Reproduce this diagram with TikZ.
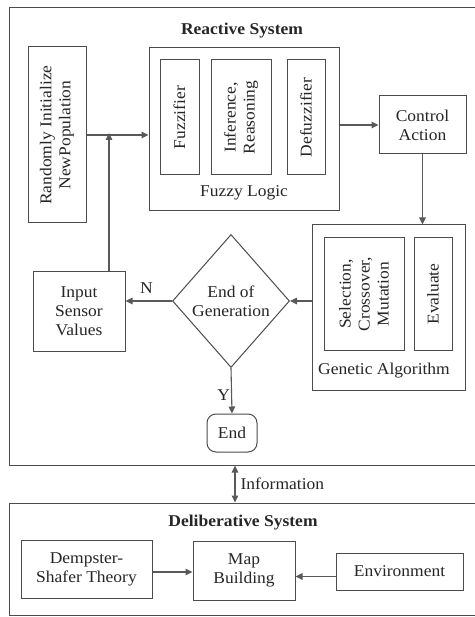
\documentclass[tikz,border=0pt]{standalone}
\usepackage{fontspec}
\setmainfont[FakeStretch=1.06]{Liberation Serif}
\usetikzlibrary{shapes.geometric,arrows.meta}
\begin{document}
\begin{tikzpicture}[x=1pt,y=-1pt,
  font=\fontsize{16.5}{19}\selectfont,
  box/.style={draw=black!70, line width=1pt, inner sep=1pt, align=center, text=black!85},
  vbox/.style={box, rotate=90},
  lbl/.style={inner sep=1pt, text=black!85, align=center},
  ttl/.style={lbl, font=\fontsize{16.5}{19}\selectfont\bfseries},
  arr/.style={-{Triangle[length=7pt,width=6.5pt]}, draw=black!65, line width=1.1pt},
  darr/.style={{Triangle[length=7pt,width=6.5pt]}-{Triangle[length=7pt,width=6.5pt]}, draw=black!65, line width=1.1pt}]
\useasboundingbox (0,0) rectangle (474,617);
\fill[white] (0,0) rectangle (474,617);
% outer systems
\node[box, minimum width=520pt, minimum height=457pt] (react) at (269,236.5) {};
\node[box, minimum width=520pt, minimum height=112pt] (delib) at (269,559) {};
\node[ttl] (rtitle) at (242,31) {Reactive System};
\node[ttl] (dtitle) at (243,523) {Deliberative System};
% reactive system
\node[vbox, minimum width=176pt, minimum height=58pt] (rand) at (57,135) {Randomly Initialize\\NewPopulation};
\node[box, minimum width=190pt, minimum height=163pt] (fuzzy) at (244,129.5) {};
\node[vbox, minimum width=115pt, minimum height=39pt] (fuzz) at (179.5,117.5) {Fuzzifier};
\node[vbox, minimum width=115pt, minimum height=60pt] (infer) at (241,117.5) {Inference,\\Reasoning};
\node[vbox, minimum width=115pt, minimum height=38pt] (defuzz) at (306,117.5) {Defuzzifier};
\node[lbl] (fuzzylbl) at (244,193) {Fuzzy Logic};
\node[box, minimum width=87pt, minimum height=58pt] (ctrl) at (422.5,125) {Control\\Action};
\node[box, minimum width=153pt, minimum height=165pt] (ga) at (388.5,307.5) {};
\node[vbox, minimum width=112pt, minimum height=80pt] (sel) at (364,294) {Selection,\\Crossover,\\Mutation};
\node[vbox, minimum width=112pt, minimum height=38pt] (eval) at (433,294) {Evaluate};
\node[lbl] (galbl) at (384,371) {Genetic Algorithm};
\node[box, diamond, inner sep=0pt, minimum width=117pt, minimum height=133pt] (dia) at (231,301) {End of\\Generation};
\node[box, minimum width=92pt, minimum height=80pt] (input) at (79,311) {Input\\Sensor\\Values};
\node[box, rounded corners=9pt, minimum width=50pt, minimum height=38pt] (end) at (232,433) {End};
\coordinate (join) at (109,135);
\coordinate (info) at (235,484);
% deliberative system
\node[box, minimum width=131pt, minimum height=58pt] (demp) at (86.5,569) {Dempster-\\Shafer Theory};
\node[box, minimum width=102pt, minimum height=59pt] (map) at (244,570.5) {Map\\Building};
\node[box, minimum width=127pt, minimum height=37pt] (env) at (399.5,571.5) {Environment};
% connectors
\draw[arr] (rand.south |- join) -- (join -| fuzzy.west);
\draw[arr] (input.north -| join) -- ([yshift=2pt]join);
\draw[arr] (fuzzy.east |- ctrl) -- (ctrl.west);
\draw[arr] (ctrl.south) -- (ctrl.south |- ga.north);
\draw[arr] (ga.west |- dia) -- (dia.east);
\draw[arr] (dia.west) -- node[lbl, above, pos=0.55, yshift=6pt] (nlbl) {N} (dia.west -| input.east);
\draw[arr] (dia.south) -- node[lbl, left, pos=0.6] (ylbl) {Y} (end.north);
\draw[darr] (react.south -| info) -- node[lbl, right, xshift=4pt] (infolbl) {Information} (delib.north -| info);
\draw[arr] ([yshift=-3pt]demp.east) -- ([yshift=-3pt]demp.east -| map.west);
\draw[arr] ([yshift=-5pt]env.west) -- ([yshift=-5pt]env.west -| map.east);
\end{tikzpicture}
\end{document}
